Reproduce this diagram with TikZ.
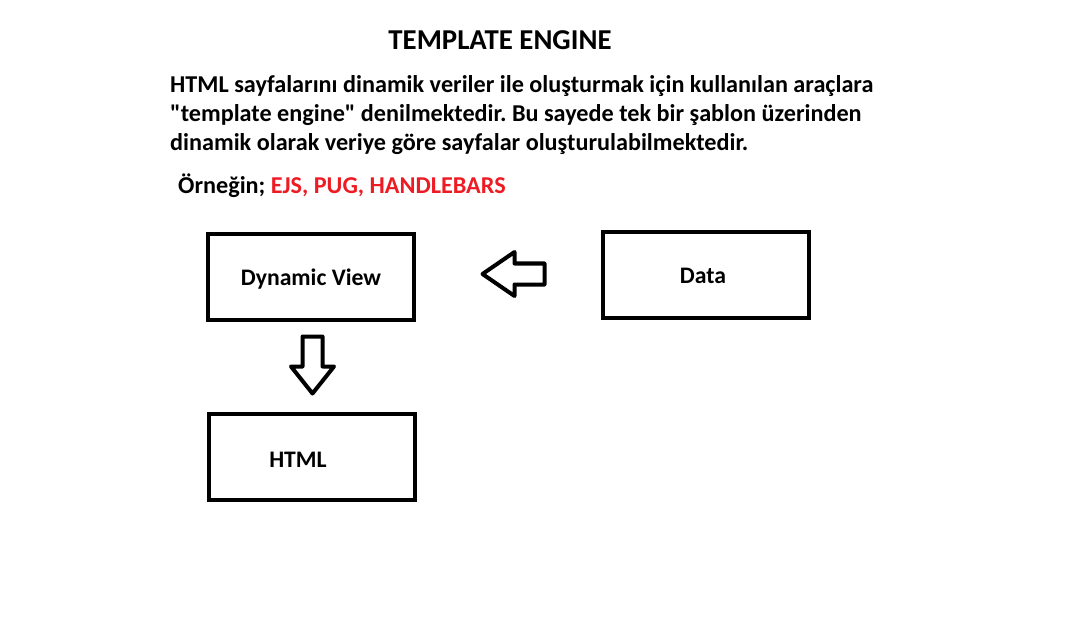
\documentclass[tikz,border=0pt]{standalone}
\usepackage{fontspec}
\setmainfont{Carlito}[Ligatures=TeXOff]
\usepackage{xcolor}
\usepackage{tikz}
\usetikzlibrary{calc}

\definecolor{paintred}{RGB}{237,28,36}
\frenchspacing

\tikzset{
    viewbox/.style={draw=black, line width=4pt, minimum width=206pt, minimum height=86pt, inner sep=0pt, font=\bfseries\fontsize{23.7}{28}\selectfont},
    boxlabel/.style={inner sep=0pt, font=\bfseries\fontsize{23.7}{28}\selectfont},
    blockarrow/.style={draw=black, line width=4pt, line join=round, fill=white},
    bodytext/.style={inner sep=0pt, align=left, font=\bfseries\fontsize{24.2}{28.6}\selectfont}
}

\begin{document}
\begin{tikzpicture}[x=1pt, y=-1pt]
                \useasboundingbox (0,0) rectangle (1078,636);
                % heading and explanation
                \node[font=\bfseries\fontsize{28.8}{32}\selectfont] (title) at (500,40) {TEMPLATE ENGINE};
                \node[bodytext, anchor=west] (intro) at (170,115) {HTML sayfalarını dinamik veriler ile oluşturmak için kullanılan araçlara\\
                    "template engine" denilmektedir. Bu sayede tek bir şablon üzerinden\\
                    dinamik olarak veriye göre sayfalar oluşturulabilmektedir.};
                \node[bodytext, anchor=west] (example) at (178,186) {Örneğin; \textcolor{paintred}{EJS, PUG, HANDLEBARS}};
                % boxes
                \node[viewbox] (dyn) at (311,277) {};
                \node[viewbox] (data) at (706,275) {};
                \node[viewbox] (html) at (312,457) {};
                \node[boxlabel] (dynlabel) at ($(dyn.center)+(0,2)$) {Dynamic View};
                \node[boxlabel] (datalabel) at ($(data.center)+(-3,1)$) {Data};
                \node[boxlabel] (htmllabel) at ($(html.center)+(-14,3)$) {HTML};
                % block arrows
                \coordinate (left) at ($(dyn.east)!0.5!(data.west)+(5,-2)$);
                \coordinate (down) at ($(dyn.south)!0.5!(html.north)+(1,-2)$);
                \draw[blockarrow] (left) ++(-31,0) -- ++(32,-22) -- ++(0,11.5) -- ++(30,0) -- ++(0,21) -- ++(-30,0) -- ++(0,11.5) -- cycle;
                \draw[blockarrow] (down) ++(0,28.5) -- ++(-21.5,-27) -- ++(11.5,0) -- ++(0,-30) -- ++(20,0) -- ++(0,30) -- ++(11.5,0) -- cycle;
            \end{tikzpicture}
\end{document}
